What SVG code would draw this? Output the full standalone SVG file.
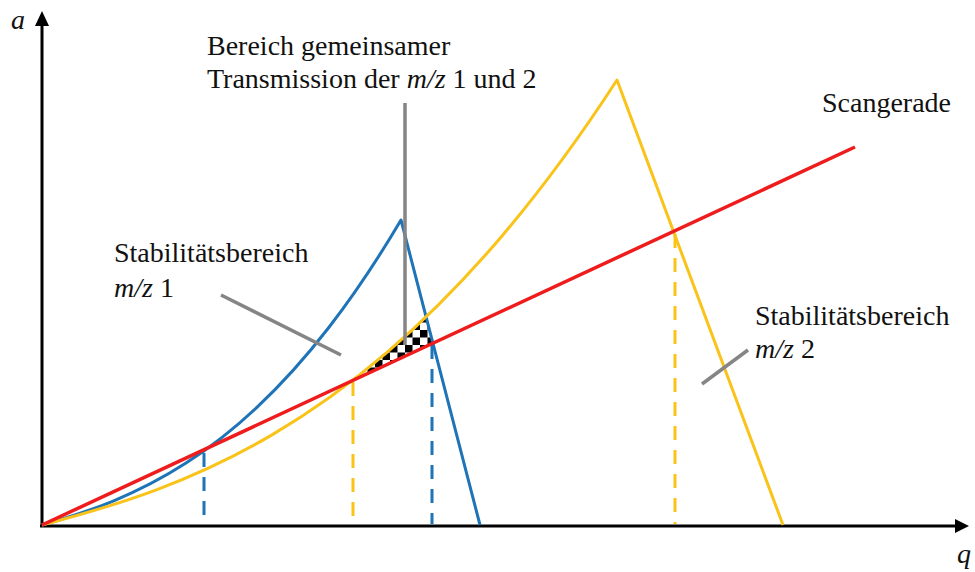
<svg xmlns="http://www.w3.org/2000/svg" width="975" height="572" viewBox="0 0 975 572">
<style>
.t{font-family:"Liberation Serif","Times New Roman",serif;font-size:28px;fill:#111}
.i{font-style:italic}
.ax{stroke:#000;stroke-width:3;fill:none}
.blue{stroke:#1f73b7;stroke-width:3;fill:none;stroke-linejoin:round}
.yel{stroke:#f9c31a;stroke-width:3;fill:none;stroke-linejoin:round}
.red{stroke:#ee1c1c;stroke-width:3.5;fill:none}
.dash{stroke-width:3;stroke-dasharray:14 10;fill:none}
.grey{stroke:#858585;stroke-width:3.5;fill:none}
</style>
<defs>
<pattern id="chk" width="15" height="15" patternUnits="userSpaceOnUse" x="0" y="0">
<rect width="15" height="15" fill="#fff"/>
<rect width="7.5" height="7.5" fill="#000"/>
<rect x="7.5" y="7.5" width="7.5" height="7.5" fill="#000"/>
</pattern>
</defs>
<rect width="975" height="572" fill="#fff"/>
<g id="overlap-region">
<polygon points="353,380 370,366.7 390,349.8 410,332 426,317.5 432,343.7" fill="url(#chk)"/>
</g>
<g id="axes">
<line class="ax" x1="42" y1="527" x2="42" y2="24"/>
<polygon points="42,11 35,26 49,26" fill="#000"/>
<line class="ax" x1="40" y1="526" x2="956" y2="526"/>
<polygon points="969,526 955,519 955,533" fill="#000"/>
<text class="t i" x="11" y="29">a</text>
<text class="t i" x="957" y="563">q</text>
</g>
<g id="dashed-markers">
<line class="dash" stroke="#1f73b7" x1="204" y1="453" x2="204" y2="524"/>
<line class="dash" stroke="#f9c31a" x1="353" y1="382" x2="353" y2="524"/>
<line class="dash" stroke="#1f73b7" x1="432" y1="345" x2="432" y2="524"/>
<line class="dash" stroke="#f9c31a" x1="675" y1="234" x2="675" y2="524"/>
</g>
<g id="stability-mz1">
<path class="blue" d="M42,525 C65.93,518.13 89.87,510.67 113.8,500.79 C137.73,490.91 161.67,478.74 185.6,463.36 C209.53,447.98 233.47,429.38 257.4,406.87 C281.33,384.36 305.27,357.93 329.2,326.97 C353.13,296.01 377.07,260.53 401,220 L480,525"/>
</g>
<g id="stability-mz2">
<path class="yel" d="M42,525 C80.33,514.93 118.67,503.99 157,489.54 C195.33,475.09 233.67,457.31 272,434.85 C310.33,412.39 348.67,385.26 387,352.42 C425.33,319.58 463.67,281.04 502,235.91 C540.33,190.78 578.67,139.07 617,80 L783,525"/>
</g>
<g id="scan-line">
<line class="red" x1="42" y1="525" x2="855" y2="147"/>
</g>
<g id="connectors">
<line class="grey" x1="405" y1="103" x2="405" y2="345"/>
<line class="grey" x1="221" y1="295" x2="341" y2="355"/>
<line class="grey" x1="702" y1="384" x2="748" y2="350"/>
</g>
<g id="label-overlap">
<text class="t" x="207" y="55">Bereich gemeinsamer</text>
<text class="t" x="207" y="88">Transmission der <tspan class="i">m/z</tspan> 1 und 2</text>
</g>
<g id="label-scan">
<text class="t" x="822" y="112">Scangerade</text>
</g>
<g id="label-mz1">
<text class="t" x="114" y="262">Stabilitätsbereich</text>
<text class="t" x="114" y="297"><tspan class="i">m/z</tspan> 1</text>
</g>
<g id="label-mz2">
<text class="t" x="755" y="325">Stabilitätsbereich</text>
<text class="t" x="755" y="358"><tspan class="i">m/z</tspan> 2</text>
</g>
</svg>
